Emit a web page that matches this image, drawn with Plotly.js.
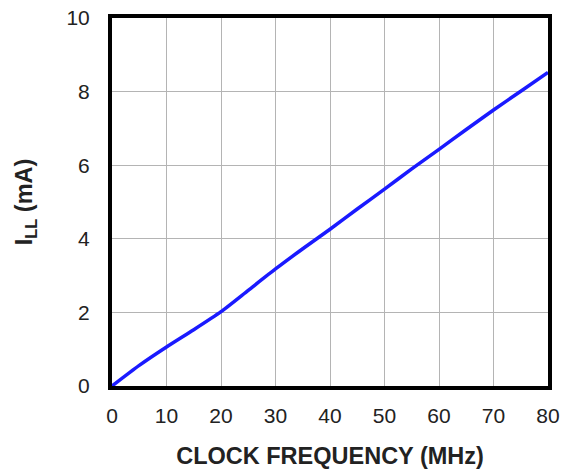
<!DOCTYPE html>
<html>
<head>
<meta charset="utf-8">
<script src="https://cdn.plot.ly/plotly-3.0.1.min.js"></script>
<style>html,body{margin:0;padding:0;background:#fff;}#chart{width:567px;height:470px;}</style>
</head>
<body>
<div id="chart"></div>
<script>
const clockMHz = [0, 5, 10, 15, 20, 25, 30, 35, 40, 45, 50, 55, 60, 65, 70, 75, 80];
const illmA = [0, 0.56, 1.06, 1.53, 2.02, 2.6, 3.18, 3.73, 4.26, 4.81, 5.35, 5.9, 6.43, 6.97, 7.5, 8.01, 8.52];
const xTicks = [0, 10, 20, 30, 40, 50, 60, 70, 80];
const yTicks = [0, 2, 4, 6, 8, 10];

const font = 'Liberation Sans, Arial, sans-serif';
const trace = {
  x: clockMHz, y: illmA, mode: 'lines', type: 'scatter',
  line: {color: '#1a1aff', width: 3.5, shape: 'spline', smoothing: 0.6},
  hoverinfo: 'skip'
};
const layout = {
  width: 567, height: 470,
  margin: {l: 112, r: 19, t: 18, b: 84},
  paper_bgcolor: '#fff', plot_bgcolor: '#fff',
  showlegend: false,
  font: {family: font, color: '#222', size: 21},
  xaxis: {
    range: [0, 80], tickvals: xTicks, ticktext: xTicks.map(String),
    showgrid: true, gridcolor: '#b4b4b4', gridwidth: 1,
    zeroline: false, showline: true, linecolor: '#000', linewidth: 4, mirror: true,
    ticks: '', ticklabelstandoff: 8,
    tickfont: {family: font, size: 21, color: '#222'},
    title: {text: '<b>CLOCK FREQUENCY (MHz)</b>', font: {family: font, size: 23.5, color: '#222'}, standoff: 22}
  },
  yaxis: {
    range: [0, 10], tickvals: yTicks, ticktext: yTicks.map(String),
    showgrid: true, gridcolor: '#b4b4b4', gridwidth: 1,
    zeroline: false, showline: true, linecolor: '#000', linewidth: 4, mirror: true,
    ticks: '', ticklabelstandoff: 14,
    tickfont: {family: font, size: 21, color: '#222'},
    title: {text: '<b>I<sub>LL</sub> (mA)</b>', font: {family: font, size: 23.5, color: '#222'}, standoff: 28}
  }
};
Plotly.newPlot('chart', [trace], layout, {staticPlot: true, displayModeBar: false});
</script>
</body>
</html>
